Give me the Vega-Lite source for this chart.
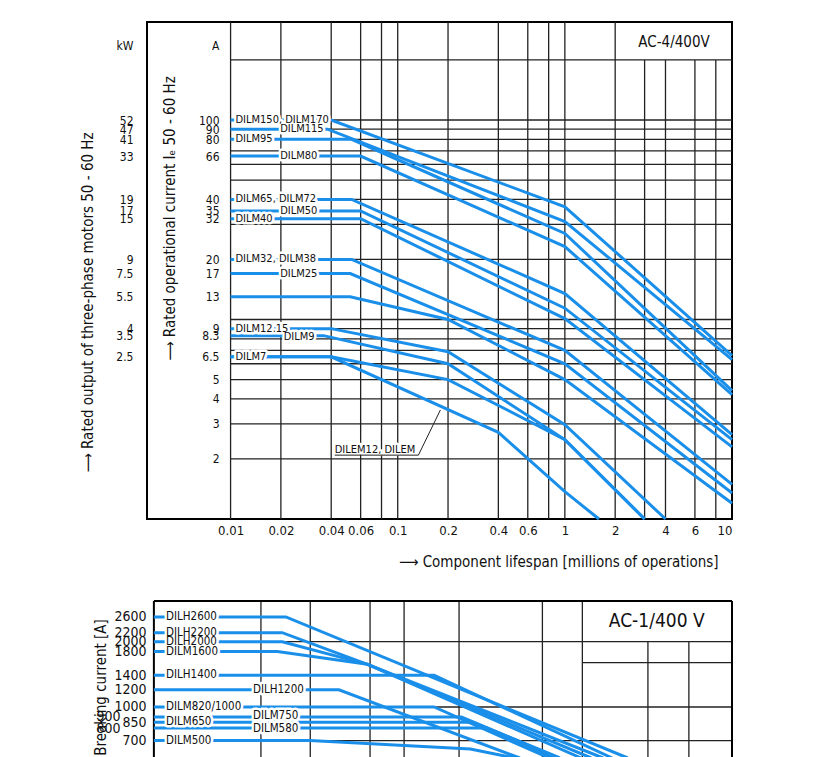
{
  "$schema": "https://vega.github.io/schema/vega-lite/v6.json",
  "padding": {"left": 79, "top": 20, "right": 5, "bottom": 0},
  "background": "white",
  "spacing": 30,
  "config": {
    "font": "DejaVu Sans Condensed, Liberation Sans Narrow, Liberation Sans, sans-serif",
    "axis": {"titleFontWeight": "normal", "labelColor": "#111", "titleColor": "#111", "grid": false, "domain": false, "ticks": false, "tickSize": 0, "labelOverlap": false, "labelBound": false},
    "view": {"stroke": null}
  },
  "vconcat": [
    {
      "width": 585,
      "height": 497,
      "view": {"stroke": "#000", "strokeWidth": 2},
      "resolve": {"axis": {"y": "independent"}},
      "layer": [
        {
          "data": {"values": [{"v": 2}, {"v": 3}, {"v": 4}, {"v": 5}, {"v": 6}, {"v": 7}, {"v": 8}, {"v": 9}, {"v": 10}, {"v": 20}, {"v": 30}, {"v": 40}, {"v": 50}, {"v": 60}, {"v": 70}, {"v": 80}, {"v": 90}, {"v": 100}, {"v": 200}]},
          "mark": {"type": "rule", "color": "#222", "strokeWidth": 1.3},
          "encoding": {
            "y": {"field": "v", "type": "quantitative", "scale": {"type": "log", "domain": [1, 310], "nice": false},
              "axis": {"orient": "left", "offset": -83, "values": [236, 100, 90, 80, 66, 40, 35, 32, 20, 17, 13, 9, 8.3, 6.5, 5, 4, 3, 2], "format": "~g", "labelExpr": "datum.value > 200 ? 'A' : datum.label", "labelPadding": 11, "labelFontSize": 12, "title": "⟶ Rated operational current Iₑ 50 - 60 Hz", "titleX": -61, "titleY": 196, "titleAngle": -90, "titleAlign": "center", "titleBaseline": "middle", "titleFontSize": 15}},
            "x": {"datum": 0.01, "type": "quantitative", "scale": {"type": "log", "domain": [0.003162, 10], "nice": false}},
            "x2": {"datum": 10}
          }
        },
        {
          "data": {"values": [{"v": 0.01}, {"v": 0.02}, {"v": 0.04}, {"v": 0.06}, {"v": 0.08}, {"v": 0.1}, {"v": 0.2}, {"v": 0.4}, {"v": 0.6}, {"v": 0.8}, {"v": 1}, {"v": 2}]},
          "mark": {"type": "rule", "color": "#222", "strokeWidth": 1.3},
          "encoding": {
            "x": {"field": "v", "type": "quantitative", "scale": {"type": "log", "domain": [0.003162, 10], "nice": false},
              "axis": {"orient": "bottom", "values": [0.01, 0.02, 0.04, 0.06, 0.1, 0.2, 0.4, 0.6, 1, 2, 4, 6, 10], "format": "~g", "labelPadding": 5, "labelFontSize": 13, "labelFlush": true, "title": "⟶ Component lifespan [millions of operations]", "titleX": 571, "titleY": 42, "titleAlign": "right", "titleBaseline": "middle", "titleFontSize": 15}}
          }
        },
        {
          "data": {"values": [{"v": 3}, {"v": 4}, {"v": 6}, {"v": 8}]},
          "mark": {"type": "rule", "color": "#222", "strokeWidth": 1.3},
          "encoding": {
            "x": {"field": "v", "type": "quantitative", "scale": {"type": "log", "domain": [0.003162, 10], "nice": false}},
            "y": {"datum": 1, "type": "quantitative", "scale": {"type": "log", "domain": [1, 310], "nice": false}, "axis": null},
            "y2": {"datum": 200}
          }
        },
        {
          "data": {"values": [
            {"s": "S1", "x": 0.01, "y": 100}, {"s": "S1", "x": 0.04, "y": 100}, {"s": "S1", "x": 1, "y": 36.7}, {"s": "S1", "x": 10, "y": 6.6},
            {"s": "S2", "x": 0.01, "y": 90}, {"s": "S2", "x": 0.038, "y": 90}, {"s": "S2", "x": 1, "y": 31}, {"s": "S2", "x": 10, "y": 6.3},
            {"s": "S3", "x": 0.01, "y": 80}, {"s": "S3", "x": 0.053, "y": 80}, {"s": "S3", "x": 1, "y": 27}, {"s": "S3", "x": 10, "y": 4.4},
            {"s": "S4", "x": 0.01, "y": 66}, {"s": "S4", "x": 0.06, "y": 66}, {"s": "S4", "x": 1, "y": 23.2}, {"s": "S4", "x": 10, "y": 4.2},
            {"s": "S5", "x": 0.01, "y": 40}, {"s": "S5", "x": 0.053, "y": 40}, {"s": "S5", "x": 1, "y": 13.5}, {"s": "S5", "x": 10, "y": 2.65},
            {"s": "S6", "x": 0.01, "y": 35}, {"s": "S6", "x": 0.06, "y": 35}, {"s": "S6", "x": 1, "y": 11.4}, {"s": "S6", "x": 10, "y": 2.5},
            {"s": "S7", "x": 0.01, "y": 32}, {"s": "S7", "x": 0.06, "y": 32}, {"s": "S7", "x": 1, "y": 10.1}, {"s": "S7", "x": 10, "y": 2.3},
            {"s": "S8", "x": 0.01, "y": 20}, {"s": "S8", "x": 0.053, "y": 20}, {"s": "S8", "x": 1, "y": 7.0}, {"s": "S8", "x": 10, "y": 1.49},
            {"s": "S9", "x": 0.01, "y": 17}, {"s": "S9", "x": 0.052, "y": 17}, {"s": "S9", "x": 1, "y": 6.0}, {"s": "S9", "x": 10, "y": 1.35},
            {"s": "S10", "x": 0.01, "y": 13}, {"s": "S10", "x": 0.052, "y": 13}, {"s": "S10", "x": 0.2, "y": 10}, {"s": "S10", "x": 1, "y": 5.0}, {"s": "S10", "x": 10, "y": 1.2},
            {"s": "S11", "x": 0.01, "y": 9}, {"s": "S11", "x": 0.04, "y": 9}, {"s": "S11", "x": 0.2, "y": 6.9}, {"s": "S11", "x": 1, "y": 2.97}, {"s": "S11", "x": 4, "y": 1.0},
            {"s": "S12", "x": 0.01, "y": 8.3}, {"s": "S12", "x": 0.036, "y": 8.3}, {"s": "S12", "x": 0.2, "y": 6.0}, {"s": "S12", "x": 1, "y": 2.5}, {"s": "S12", "x": 3, "y": 1.0},
            {"s": "S13", "x": 0.01, "y": 6.5}, {"s": "S13", "x": 0.04, "y": 6.5}, {"s": "S13", "x": 0.2, "y": 5.0}, {"s": "S13", "x": 1, "y": 2.5}, {"s": "S13", "x": 3, "y": 1.0},
            {"s": "S14", "x": 0.01, "y": 6.5}, {"s": "S14", "x": 0.04, "y": 6.5}, {"s": "S14", "x": 0.4, "y": 2.72}, {"s": "S14", "x": 1, "y": 1.37}, {"s": "S14", "x": 1.6, "y": 1.0}
          ]},
          "mark": {"type": "line", "color": "#1a8fea", "strokeWidth": 3},
          "encoding": {
            "x": {"field": "x", "type": "quantitative", "scale": {"type": "log", "domain": [0.003162, 10], "nice": false}},
            "y": {"field": "y", "type": "quantitative", "scale": {"type": "log", "domain": [1, 310], "nice": false}, "axis": null},
            "detail": {"field": "s"}
          }
        },
        {
          "data": {"name": "toplabels", "values": [
            {"label": "DILM150, DILM170", "x": 0.0107, "y": 100},
            {"label": "DILM115", "x": 0.0198, "y": 90},
            {"label": "DILM95", "x": 0.0107, "y": 80},
            {"label": "DILM80", "x": 0.0198, "y": 66},
            {"label": "DILM65, DILM72", "x": 0.0107, "y": 40},
            {"label": "DILM50", "x": 0.0198, "y": 35},
            {"label": "DILM40", "x": 0.0107, "y": 32},
            {"label": "DILM32, DILM38", "x": 0.0107, "y": 20},
            {"label": "DILM25", "x": 0.0198, "y": 17},
            {"label": "DILM12.15", "x": 0.0107, "y": 9},
            {"label": "DILM9", "x": 0.0208, "y": 8.2},
            {"label": "DILM7", "x": 0.0107, "y": 6.5},
            {"label": "DILEM12, DILEM", "x": 0.042, "y": 2.22}
          ]},
          "mark": {"type": "text", "align": "left", "baseline": "middle", "fontSize": 11, "fill": "white", "stroke": "white", "strokeWidth": 5, "strokeJoin": "round"},
          "encoding": {
            "x": {"field": "x", "type": "quantitative", "scale": {"type": "log", "domain": [0.003162, 10], "nice": false}},
            "y": {"field": "y", "type": "quantitative", "scale": {"type": "log", "domain": [1, 310], "nice": false},
              "axis": {"orient": "left", "offset": 0, "values": [236, 100, 90, 80, 66, 40, 35, 32, 20, 17, 13, 9, 8.3, 6.5], "labelExpr": "datum.value > 200 ? 'kW' : datum.value == 100 ? '52' : datum.value == 90 ? '47' : datum.value == 80 ? '41' : datum.value == 66 ? '33' : datum.value == 40 ? '19' : datum.value == 35 ? '17' : datum.value == 32 ? '15' : datum.value == 20 ? '9' : datum.value == 17 ? '7.5' : datum.value == 13 ? '5.5' : datum.value == 9 ? '4' : datum.value == 8.3 ? '3.5' : '2.5'", "labelPadding": 14, "labelFontSize": 12, "title": "⟶ Rated output of three-phase motors 50 - 60 Hz", "titleX": -60, "titleY": 280, "titleAngle": -90, "titleAlign": "center", "titleBaseline": "middle", "titleFontSize": 15}},
            "text": {"field": "label"}
          }
        },
        {
          "data": {"values": [{"x": 0.042, "y": 2.09}, {"x": 0.133, "y": 2.09}, {"x": 0.18, "y": 3.52}]},
          "mark": {"type": "line", "color": "#222", "strokeWidth": 1},
          "encoding": {
            "x": {"field": "x", "type": "quantitative", "scale": {"type": "log", "domain": [0.003162, 10], "nice": false}},
            "y": {"field": "y", "type": "quantitative", "scale": {"type": "log", "domain": [1, 310], "nice": false}, "axis": null}
          }
        },
        {
          "data": {"name": "toplabels"},
          "mark": {"type": "text", "align": "left", "baseline": "middle", "fontSize": 11, "fill": "#111"},
          "encoding": {
            "x": {"field": "x", "type": "quantitative", "scale": {"type": "log", "domain": [0.003162, 10], "nice": false}},
            "y": {"field": "y", "type": "quantitative", "scale": {"type": "log", "domain": [1, 310], "nice": false}, "axis": null},
            "text": {"field": "label"}
          }
        },
        {
          "data": {"values": [{"label": "AC-4/400V", "x": 4.5, "y": 247}]},
          "mark": {"type": "text", "align": "center", "baseline": "middle", "fontSize": 15, "fill": "#111"},
          "encoding": {
            "x": {"field": "x", "type": "quantitative", "scale": {"type": "log", "domain": [0.003162, 10], "nice": false}},
            "y": {"field": "y", "type": "quantitative", "scale": {"type": "log", "domain": [1, 310], "nice": false}, "axis": null},
            "text": {"field": "label"}
          }
        }
      ]
    },
    {
      "width": 585,
      "height": 157,
      "resolve": {"axis": {"y": "independent"}},
      "layer": [
        {
          "data": {"values": [{"v": 2000}, {"v": 1000}, {"v": 700}]},
          "mark": {"type": "rule", "color": "#222", "strokeWidth": 1.3},
          "encoding": {
            "y": {"field": "v", "type": "quantitative", "scale": {"type": "log", "domain": [582, 3080], "nice": false},
              "axis": {"orient": "left", "values": [2600, 2200, 2000, 1800, 1400, 1200, 1000, 850, 700], "format": "d", "labelPadding": 1, "labelFontSize": 14, "title": "Breaking current [A]", "titleX": -47, "titleY": 86, "titleAngle": -90, "titleAlign": "center", "titleBaseline": "middle", "titleFontSize": 15}},
            "x": {"datum": 0.0762, "type": "quantitative", "scale": {"type": "log", "domain": [0.0719, 10], "nice": false}, "axis": null},
            "x2": {"datum": 10}
          }
        },
        {
          "data": {"values": [{"v": 1600}]},
          "mark": {"type": "rule", "color": "#222", "strokeWidth": 1.3},
          "encoding": {
            "y": {"field": "v", "type": "quantitative", "scale": {"type": "log", "domain": [582, 3080], "nice": false},
              "axis": {"orient": "left", "values": [900, 800], "format": "d", "labelPadding": 27, "labelFontSize": 14, "title": null}},
            "x": {"datum": 2.83, "type": "quantitative", "scale": {"type": "log", "domain": [0.0719, 10], "nice": false}, "axis": null},
            "x2": {"datum": 10}
          }
        },
        {
          "data": {"values": [{"v": 0.188}, {"v": 0.285}, {"v": 0.472}, {"v": 0.629}, {"v": 1}, {"v": 2.02}, {"v": 2.83}]},
          "mark": {"type": "rule", "color": "#222", "strokeWidth": 1.3},
          "encoding": {
            "x": {"field": "v", "type": "quantitative", "scale": {"type": "log", "domain": [0.0719, 10], "nice": false}, "axis": null}
          }
        },
        {
          "data": {"values": [{"v": 4.92}, {"v": 6.95}]},
          "mark": {"type": "rule", "color": "#222", "strokeWidth": 1.3},
          "encoding": {
            "x": {"field": "v", "type": "quantitative", "scale": {"type": "log", "domain": [0.0719, 10], "nice": false}, "axis": null},
            "y": {"datum": 2000, "type": "quantitative", "scale": {"type": "log", "domain": [582, 3080], "nice": false}, "axis": null},
            "y2": {"datum": 582}
          }
        },
        {
          "data": {"values": [{"v": 0.0762}, {"v": 10}]},
          "mark": {"type": "rule", "color": "#000", "strokeWidth": 2},
          "encoding": {
            "x": {"field": "v", "type": "quantitative", "scale": {"type": "log", "domain": [0.0719, 10], "nice": false}, "axis": null}
          }
        },
        {
          "data": {"values": [{"v": 3080}]},
          "mark": {"type": "rule", "color": "#000", "strokeWidth": 2},
          "encoding": {
            "y": {"field": "v", "type": "quantitative", "scale": {"type": "log", "domain": [582, 3080], "nice": false}, "axis": null},
            "x": {"datum": 0.0762, "type": "quantitative", "scale": {"type": "log", "domain": [0.0719, 10], "nice": false}, "axis": null},
            "x2": {"datum": 10}
          }
        },
        {
          "data": {"values": [
            {"s": "B1", "x": 0.0762, "y": 2600}, {"s": "B1", "x": 0.232, "y": 2600}, {"s": "B1", "x": 4.15, "y": 582},
            {"s": "B2", "x": 0.0762, "y": 2200}, {"s": "B2", "x": 0.225, "y": 2200}, {"s": "B2", "x": 0.462, "y": 1573}, {"s": "B2", "x": 3.37, "y": 582},
            {"s": "B3", "x": 0.0762, "y": 2000}, {"s": "B3", "x": 0.225, "y": 2000}, {"s": "B3", "x": 0.462, "y": 1573}, {"s": "B3", "x": 3.05, "y": 582},
            {"s": "B4", "x": 0.0762, "y": 1800}, {"s": "B4", "x": 0.216, "y": 1800}, {"s": "B4", "x": 0.462, "y": 1573}, {"s": "B4", "x": 2.8, "y": 582},
            {"s": "B5", "x": 0.0762, "y": 1400}, {"s": "B5", "x": 0.81, "y": 1400}, {"s": "B5", "x": 3.64, "y": 582},
            {"s": "B6", "x": 0.0762, "y": 1200}, {"s": "B6", "x": 0.363, "y": 1200}, {"s": "B6", "x": 1.67, "y": 582},
            {"s": "B7", "x": 0.0762, "y": 1000}, {"s": "B7", "x": 0.81, "y": 1000}, {"s": "B7", "x": 2.14, "y": 582},
            {"s": "B8", "x": 0.0762, "y": 900}, {"s": "B8", "x": 1.02, "y": 900}, {"s": "B8", "x": 2.32, "y": 582},
            {"s": "B9", "x": 0.0762, "y": 850}, {"s": "B9", "x": 1.125, "y": 850}, {"s": "B9", "x": 2.34, "y": 582},
            {"s": "B10", "x": 0.0762, "y": 800}, {"s": "B10", "x": 1.235, "y": 800}, {"s": "B10", "x": 2.25, "y": 582},
            {"s": "B11", "x": 0.0762, "y": 700}, {"s": "B11", "x": 0.284, "y": 700}, {"s": "B11", "x": 1.1, "y": 640}, {"s": "B11", "x": 1.6, "y": 582}
          ]},
          "mark": {"type": "line", "color": "#1a8fea", "strokeWidth": 3, "clip": true},
          "encoding": {
            "x": {"field": "x", "type": "quantitative", "scale": {"type": "log", "domain": [0.0719, 10], "nice": false}, "axis": null},
            "y": {"field": "y", "type": "quantitative", "scale": {"type": "log", "domain": [582, 3080], "nice": false}, "axis": null},
            "detail": {"field": "s"}
          }
        },
        {
          "data": {"name": "botlabels", "values": [
            {"label": "DILH2600", "x": 0.0844, "y": 2600},
            {"label": "DILH2200", "x": 0.0844, "y": 2200},
            {"label": "DILH2000", "x": 0.0844, "y": 2000},
            {"label": "DILM1600", "x": 0.0844, "y": 1800},
            {"label": "DILH1400", "x": 0.0844, "y": 1400},
            {"label": "DILH1200", "x": 0.1757, "y": 1200},
            {"label": "DILM820/1000", "x": 0.0844, "y": 1000},
            {"label": "DILM750", "x": 0.1757, "y": 905},
            {"label": "DILM650", "x": 0.0844, "y": 850},
            {"label": "DILM580", "x": 0.1757, "y": 795},
            {"label": "DILM500", "x": 0.0844, "y": 700}
          ]},
          "mark": {"type": "text", "align": "left", "baseline": "middle", "fontSize": 11.5, "fill": "white", "stroke": "white", "strokeWidth": 5, "strokeJoin": "round"},
          "encoding": {
            "x": {"field": "x", "type": "quantitative", "scale": {"type": "log", "domain": [0.0719, 10], "nice": false}, "axis": null},
            "y": {"field": "y", "type": "quantitative", "scale": {"type": "log", "domain": [582, 3080], "nice": false}, "axis": null},
            "text": {"field": "label"}
          }
        },
        {
          "data": {"name": "botlabels"},
          "mark": {"type": "text", "align": "left", "baseline": "middle", "fontSize": 11.5, "fill": "#111"},
          "encoding": {
            "x": {"field": "x", "type": "quantitative", "scale": {"type": "log", "domain": [0.0719, 10], "nice": false}, "axis": null},
            "y": {"field": "y", "type": "quantitative", "scale": {"type": "log", "domain": [582, 3080], "nice": false}, "axis": null},
            "text": {"field": "label"}
          }
        },
        {
          "data": {"values": [{"label": "AC-1/400 V", "x": 5.3, "y": 2490}]},
          "mark": {"type": "text", "align": "center", "baseline": "middle", "fontSize": 19, "fill": "#111"},
          "encoding": {
            "x": {"field": "x", "type": "quantitative", "scale": {"type": "log", "domain": [0.0719, 10], "nice": false}, "axis": null},
            "y": {"field": "y", "type": "quantitative", "scale": {"type": "log", "domain": [582, 3080], "nice": false}, "axis": null},
            "text": {"field": "label"}
          }
        }
      ]
    }
  ]
}
